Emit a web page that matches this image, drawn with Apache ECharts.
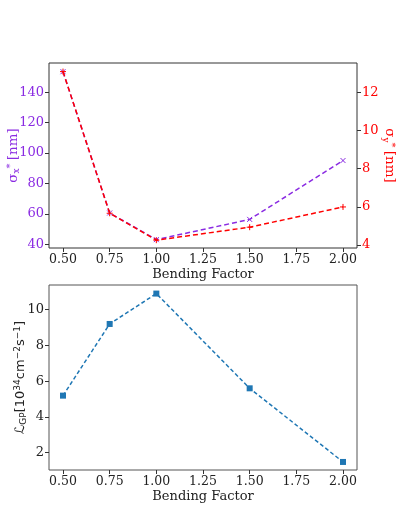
<!DOCTYPE html>
<html>
<head>
<meta charset="utf-8">
<script src="https://cdn.jsdelivr.net/npm/echarts@6/dist/echarts.min.js"></script>
<style>
  html, body { margin: 0; padding: 0; background: #fff; }
  #chart { width: 397px; height: 529px; }
</style>
</head>
<body>
<div id="chart"></div>
<script>
// bending factor values
const bending = [0.5, 0.75, 1.0, 1.5, 2.0]
// beam sizes [nm]
const sigmaX = [153.5, 60.6, 43.1, 56.4, 95.1]
const sigmaY = [13.08, 5.66, 4.25, 4.93, 5.99]
// luminosity [1e34 cm^-2 s^-1]
const lumiGP = [5.19, 9.2, 10.9, 5.6, 1.48]

const xTicks = [0.5, 0.75, 1.0, 1.25, 1.5, 1.75, 2.0]
const sxTicks = [40, 60, 80, 100, 120, 140]
const syTicks = [4, 6, 8, 10, 12]
const lumiTicks = [2, 4, 6, 8, 10]

const purple = '#8a2be2'
const red = '#ff0000'
const blue = '#1f77b4'
const serif = 'DejaVu Serif'
const sans = 'DejaVu Sans'

const pairs = (xs, ys) => xs.map((x, i) => [x, ys[i]])

function xAxis (gridIndex) {
  return {
    type: 'value',
    gridIndex: gridIndex,
    min: 0.425,
    max: 2.075,
    name: 'Bending Factor',
    nameLocation: 'middle',
    nameGap: 20,
    nameMoveOverlap: false,
    nameTextStyle: { fontFamily: serif, fontSize: 13, color: '#222' },
    axisLine: { show: false },
    splitLine: { show: false },
    axisTick: { show: true, customValues: xTicks, length: 4, lineStyle: { color: '#333' } },
    axisLabel: {
      customValues: xTicks,
      fontFamily: serif,
      fontSize: 12.5,
      color: '#222',
      margin: 5,
      formatter: v => v.toFixed(2)
    }
  }
}

function yAxis (opts) {
  return Object.assign({
    type: 'value',
    nameLocation: 'middle',
    nameMoveOverlap: false,
    axisLine: { show: false },
    splitLine: { show: false },
    axisTick: { show: true, customValues: opts.ticks, length: 4, lineStyle: { color: opts.tickColor || '#333' } },
    axisLabel: {
      customValues: opts.ticks,
      fontFamily: serif,
      fontSize: 13,
      color: opts.color,
      margin: 5
    }
  }, opts.extra)
}

const crossPath = 'path://M0,0L10,10M10,0L0,10'
const plusPath = 'path://M5,0L5,10M0,5L10,5'

const option = {
  backgroundColor: '#fff',
  animation: false,
  grid: [
    { left: 49, top: 63, width: 308, height: 185, outerBoundsMode: 'none', containLabel: false, show: true, borderColor: '#333', borderWidth: 1, backgroundColor: 'transparent' },
    { left: 49, top: 285, width: 308, height: 185, outerBoundsMode: 'none', containLabel: false, show: true, borderColor: '#555', borderWidth: 1, backgroundColor: 'transparent' }
  ],
  xAxis: [xAxis(0), xAxis(1)],
  yAxis: [
    yAxis({
      ticks: sxTicks,
      color: purple,
      extra: {
        gridIndex: 0,
        min: 37.6,
        max: 159.2,
        name: '{m|σ}{sub|x}{sup|*} {m|[nm]}',
        nameRotate: 90,
        nameGap: 28,
        nameTextStyle: {
          color: purple,
          rich: {
            m: { fontFamily: serif, fontSize: 13.5, color: purple },
            sub: { fontFamily: serif, fontSize: 9, color: purple, verticalAlign: 'bottom', padding: [6, 0, 0, 0] },
            sup: { fontFamily: serif, fontSize: 10, color: purple, verticalAlign: 'top', padding: [0, 0, 6, 0] }
          }
        }
      }
    }),
    yAxis({
      ticks: syTicks,
      color: red,
      extra: {
        gridIndex: 0,
        position: 'right',
        min: 3.84,
        max: 13.53,
        name: '{m|σ}{sub|y}{sup|*} {m|[nm]}',
        nameRotate: -90,
        nameGap: 24,
        nameTextStyle: {
          color: red,
          rich: {
            m: { fontFamily: serif, fontSize: 13.5, color: red },
            sub: { fontFamily: serif, fontSize: 9, color: red, verticalAlign: 'bottom', padding: [6, 0, 0, 0] },
            sup: { fontFamily: serif, fontSize: 10, color: red, verticalAlign: 'top', padding: [0, 0, 6, 0] }
          }
        }
      }
    }),
    yAxis({
      ticks: lumiTicks,
      color: '#222',
      extra: {
        gridIndex: 1,
        min: 1.03,
        max: 11.38,
        name: '{m|ℒ}{sub|GP}{m|[10}{sup|34}{m|cm}{sup|−2}{m|s}{sup|−1}{m|]}',
        nameRotate: 90,
        nameGap: 21,
        nameTextStyle: {
          color: '#222',
          rich: {
            m: { fontFamily: sans, fontSize: 13, color: '#222' },
            sub: { fontFamily: sans, fontSize: 9, color: '#222', verticalAlign: 'bottom', padding: [5, 0, 0, 0] },
            sup: { fontFamily: sans, fontSize: 9, color: '#222', verticalAlign: 'top', padding: [0, 0, 6, 0] }
          }
        }
      }
    })
  ],
  series: [
    {
      type: 'line',
      xAxisIndex: 0,
      yAxisIndex: 0,
      data: pairs(bending, sigmaX),
      symbol: crossPath,
      symbolSize: 5,
      itemStyle: { color: purple, borderColor: purple, borderWidth: 1 },
      lineStyle: { color: purple, width: 1.5, type: [5, 3] },
      z: 2
    },
    {
      type: 'line',
      xAxisIndex: 0,
      yAxisIndex: 1,
      data: pairs(bending, sigmaY),
      symbol: plusPath,
      symbolSize: 6,
      itemStyle: { color: red, borderColor: red, borderWidth: 1 },
      lineStyle: { color: red, width: 1.5, type: [5, 3] },
      z: 3
    },
    {
      type: 'line',
      xAxisIndex: 1,
      yAxisIndex: 2,
      data: pairs(bending, lumiGP),
      symbol: 'rect',
      symbolSize: 6,
      itemStyle: { color: blue },
      lineStyle: { color: blue, width: 1.5, type: [4, 2.5] }
    }
  ]
}

const chart = echarts.init(document.getElementById('chart'))
chart.setOption(option)
</script>
</body>
</html>
